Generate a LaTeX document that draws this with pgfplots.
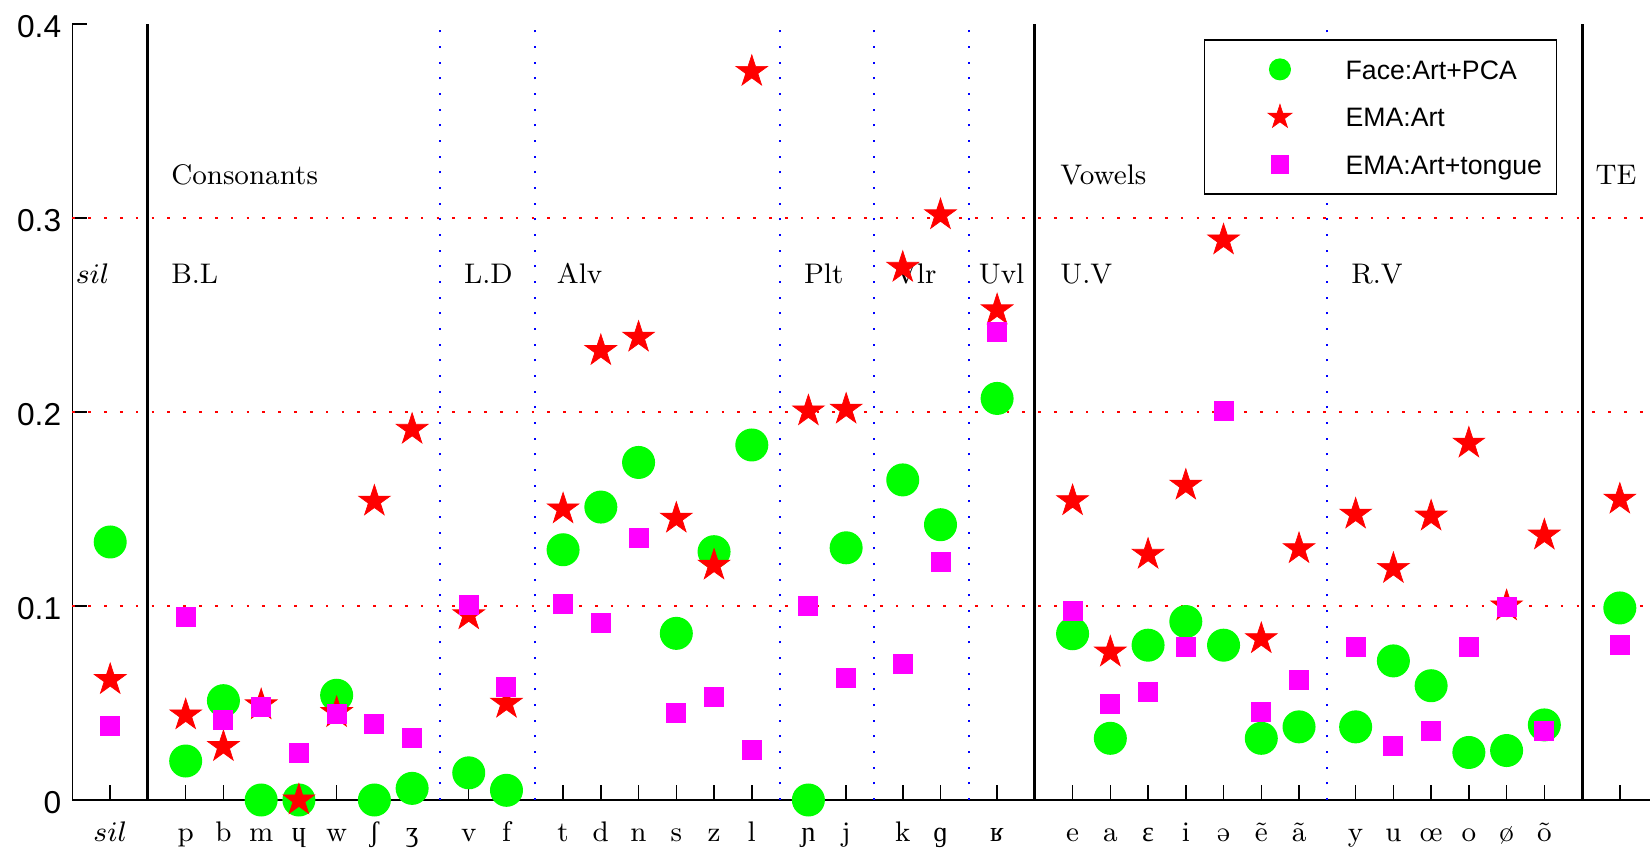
\RequirePackage{fix-cm}
\documentclass[border=0pt]{standalone}
\usepackage{fontspec}
\usepackage{pgfplots}
\usepackage{pgfplotstable}
\pgfplotsset{compat=1.18}
\newfontfamily\arial{Liberation Sans}
\newfontfamily\ipaA{Liberation Serif}
\newfontfamily\ipaB{DejaVu Serif}
\protected\def\ipa#1{\iffontchar\font`#1 #1\else{\ipaA\iffontchar\font`#1 #1\else\ipaB #1\fi}\fi}
\definecolor{mgreen}{RGB}{0,255,0}
\definecolor{mred}{RGB}{255,0,0}
\definecolor{mmag}{RGB}{255,0,255}
\definecolor{mblue}{RGB}{0,0,255}

\pgfdeclareplotmark{fstar}{%
  \pgfpathmoveto{\pgfpointpolar{90}{\pgfplotmarksize}}%
  \pgfpathlineto{\pgfpointpolar{126}{0.382\pgfplotmarksize}}%
  \pgfpathlineto{\pgfpointpolar{162}{\pgfplotmarksize}}%
  \pgfpathlineto{\pgfpointpolar{198}{0.382\pgfplotmarksize}}%
  \pgfpathlineto{\pgfpointpolar{234}{\pgfplotmarksize}}%
  \pgfpathlineto{\pgfpointpolar{270}{0.382\pgfplotmarksize}}%
  \pgfpathlineto{\pgfpointpolar{306}{\pgfplotmarksize}}%
  \pgfpathlineto{\pgfpointpolar{342}{0.382\pgfplotmarksize}}%
  \pgfpathlineto{\pgfpointpolar{18}{\pgfplotmarksize}}%
  \pgfpathlineto{\pgfpointpolar{54}{0.382\pgfplotmarksize}}%
  \pgfpathclose
  \pgfusepathqfillstroke
}

\pgfplotstableread{
x face art tongue
1 0.133 0.062 0.038
3 0.0201 0.0438 0.0942
4 0.0512 0.0275 0.0412
5 0.0 0.049 0.0481
6 0.0 0.0 0.024
7 0.054 0.045 0.0442
8 0.0 0.154 0.039
9 0.006 0.191 0.032
10.5 0.014 0.0954 0.1005
11.5 0.005 0.0498 0.058
13 0.129 0.150 0.101
14 0.151 0.2316 0.091
15 0.174 0.2385 0.135
16 0.0859 0.1452 0.045
17 0.128 0.121 0.0529
18 0.183 0.3755 0.0259
19.5 0.0 0.2005 0.100
20.5 0.130 0.2014 0.063
22 0.165 0.2745 0.070
23 0.1419 0.3016 0.1228
24.5 0.207 0.2526 0.241
26.5 0.0857 0.1542 0.0976
27.5 0.0318 0.0762 0.0496
28.5 0.0798 0.1266 0.0559
29.5 0.092 0.1622 0.0788
30.5 0.0798 0.2886 0.2007
31.5 0.0318 0.0831 0.0456
32.5 0.0377 0.1295 0.0618
34 0.0377 0.1473 0.0788
35 0.0717 0.1193 0.0278
36 0.0589 0.1463 0.0357
37 0.0245 0.1839 0.0788
38 0.0255 0.100 0.0995
39 0.0387 0.1365 0.0357
41 0.099 0.155 0.080
}\data

\begin{document}
\begin{tikzpicture}
\useasboundingbox (-21.74pt,-14.4pt) rectangle (473.26pt,240pt);
\begin{axis}[
  at={(0pt,0pt)}, anchor=south west,
  width=473.26pt, height=232.8pt, scale only axis,
  xmin=0, xmax=41.8, ymin=0, ymax=0.4,
  clip=false,
  axis x line*=bottom, axis y line*=left,
  axis line style={line width=0.45pt, black},
  tick align=inside, major tick length=4.5pt,
  tick style={black, line width=0.45pt},
  xtick={1,3,4,5,6,7,8,9,10.5,11.5,13,14,15,16,17,18,19.5,20.5,22,23,24.5,26.5,27.5,28.5,29.5,30.5,31.5,32.5,34,35,36,37,38,39,41},
  xticklabels={$sil$,p,b,m,\ipa{ɥ},w,\ipa{ʃ},\ipa{ʒ},v,f,t,d,n,s,z,l,\ipa{ɲ},j,k,\ipa{ɡ},\ipa{ʁ},e,a,\ipa{ɛ},i,\ipa{ə},\ipa{ẽ},\ipa{ã},y,u,\ipa{œ},o,\ipa{ø},\ipa{õ},{}},
  ytick={0,0.1,0.2,0.3,0.4},
  yticklabels={0,0.1,0.2,0.3,0.4},
  xticklabel style={font=\fontsize{8.5}{10}\selectfont, anchor=base, yshift=-12.3pt, inner sep=0pt},
  yticklabel style={font=\arial\fontsize{9.5}{11}\selectfont, anchor=east, inner sep=0pt, xshift=-3.2pt, yshift=-0.8pt},
  legend style={at={(0.7172,0.9803)}, anchor=north west, draw=black, line width=0.45pt, fill=white,
    inner xsep=0pt, inner ysep=4.8pt, row sep=6.3pt,
    font=\arial\fontsize{8}{9.6}\selectfont,
    nodes={inner sep=0pt, text height=5.8pt, text depth=0pt, text width=63.3pt},
    cells={anchor=west}},
  legend image code/.code={%
    \path[draw=none, fill=none] (0pt,-4pt) rectangle (42.3pt,4pt);
    \draw[#1] plot coordinates {(22.6pt,0pt)};
  },
]
% reference lines
\draw[mred, line width=0.5pt, dash pattern=on 0.8pt off 3.95pt] (axis cs:0,0.1) -- (axis cs:41.8,0.1);
\draw[mred, line width=0.5pt, dash pattern=on 0.8pt off 3.95pt] (axis cs:0,0.2) -- (axis cs:41.8,0.2);
\draw[mred, line width=0.5pt, dash pattern=on 0.8pt off 3.95pt] (axis cs:0,0.3) -- (axis cs:41.8,0.3);
\foreach \xx in {9.75,12.25,18.75,21.25,23.75,33.25}{
  \edef\temp{\noexpand\draw[mblue, line width=0.6pt, dash pattern=on 0.6pt off 4.1pt] (axis cs:\xx,0) -- (axis cs:\xx,0.4);}\temp
}
\foreach \xx in {2,25.5,40}{
  \edef\temp{\noexpand\draw[black, line width=0.9pt] (axis cs:\xx,0) -- (axis cs:\xx,0.4);}\temp
}

\addplot[only marks, mark=*, mark size=4.75pt, mark options={draw=mgreen, fill=mgreen, line width=0.4pt},
  legend image post style={mark size=3.1pt}] table[x=x, y=face] {\data};
\addplot[only marks, mark=fstar, mark size=5pt, mark options={draw=mred, fill=mred, line width=0.2pt},
  legend image post style={mark size=3.8pt}] table[x=x, y=art] {\data};
\addplot[only marks, mark=square*, mark size=2.8pt, mark options={draw=mmag, fill=mmag, line width=0.4pt},
  legend image post style={mark size=2.6pt}] table[x=x, y=tongue] {\data};

\begin{scope}[every node/.style={anchor=west, inner sep=0pt, font=\fontsize{8.5}{10}\selectfont}]
\node at (axis cs:0.07,0.2712) {$sil$};
\node at (axis cs:2.6,0.3222) {Consonants};
\node at (axis cs:2.6,0.2712) {B.L};
\node at (axis cs:10.36,0.2712) {L.D};
\node at (axis cs:12.82,0.2712) {Alv};
\node at (axis cs:19.37,0.2712) {Plt};
\node at (axis cs:21.78,0.2712) {Vlr};
\node at (axis cs:24.0,0.2712) {Uvl};
\node at (axis cs:26.16,0.3222) {Vowels};
\node at (axis cs:26.16,0.2712) {U.V};
\node at (axis cs:33.87,0.2712) {R.V};
\node at (axis cs:40.34,0.3222) {TE};
\end{scope}

\legend{Face:Art+PCA, EMA:Art, EMA:Art+tongue}
\end{axis}
\end{tikzpicture}
\end{document}
